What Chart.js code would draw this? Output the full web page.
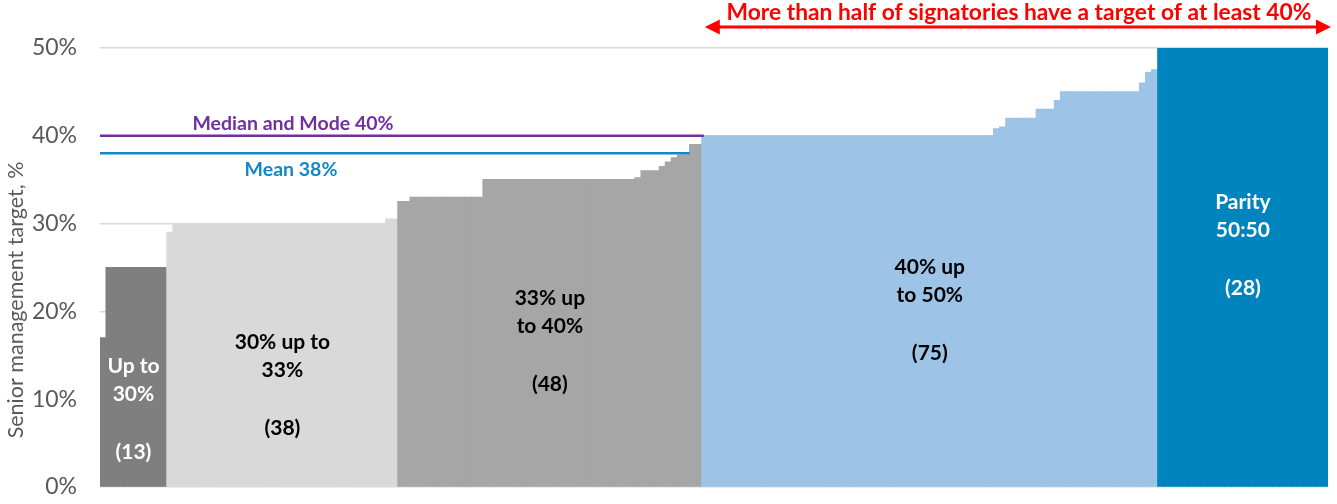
<!DOCTYPE html>
<html>
<head>
<meta charset="utf-8">
<script src="https://cdn.jsdelivr.net/npm/chart.js@4.4.1/dist/chart.umd.min.js"></script>
<style>
  html, body { margin: 0; padding: 0; background: #fff; }
  canvas { display: block; }
</style>
</head>
<body>
<canvas id="targets" width="1337" height="504"></canvas>
<script>
// one bar per signatory, sorted by senior management target (%)
const upTo30 = [17, 25, 25, 25, 25, 25, 25, 25, 25, 25, 25];
const from30to33 = [
  29, 30, 30, 30, 30, 30, 30, 30, 30, 30, 30, 30, 30, 30, 30, 30, 30, 30, 30,
  30, 30, 30, 30, 30, 30, 30, 30, 30, 30, 30, 30, 30, 30, 30, 30, 30, 30.5, 30.5
];
const from33to40 = [
  32.5, 32.5, 33, 33, 33, 33, 33, 33, 33, 33, 33, 33, 33, 33,
  35, 35, 35, 35, 35, 35, 35, 35, 35, 35, 35, 35, 35, 35, 35, 35, 35, 35, 35,
  35, 35, 35, 35, 35, 35, 35.2, 36, 36, 36, 36.5, 37, 37.5, 37.8, 37.8, 39, 39
];
const from40to50 = [
  40, 40, 40, 40, 40, 40, 40, 40, 40, 40, 40, 40, 40, 40, 40, 40, 40, 40, 40, 40,
  40, 40, 40, 40, 40, 40, 40, 40, 40, 40, 40, 40, 40, 40, 40, 40, 40, 40, 40, 40,
  40, 40, 40, 40, 40, 40, 40, 40, 40.8, 41, 42, 42, 42, 42, 42, 43, 43, 43, 44,
  45, 45, 45, 45, 45, 45, 45, 45, 45, 45, 45, 45, 45, 46, 47.2, 47.5
];
const parity = [
  50, 50, 50, 50, 50, 50, 50, 50, 50, 50, 50, 50, 50, 50,
  50, 50, 50, 50, 50, 50, 50, 50, 50, 50, 50, 50, 50, 50
];

const groupValues = [upTo30, from30to33, from33to40, from40to50, parity];
const groupColors = ['#7F7F7F', '#D9D9D9', '#A6A6A6', '#9DC3E6', '#0084BD'];
const groupText = [
  ['Up to', '30%', '', '(13)'],
  ['30% up to', '33%', '', '(38)'],
  ['33% up', 'to 40%', '', '(48)'],
  ['40% up', 'to 50%', '', '(75)'],
  ['Parity', '50:50', '', '(28)']
];
const groupTextColor = ['#FFFFFF', '#000000', '#000000', '#000000', '#FFFFFF'];
const groupTextTop = [366, 342, 298, 267, 202];

const yTicks = [0, 10, 20, 30, 40, 50];
const medianMode = 40;
const mean = 38;

const values = [].concat(...groupValues);
const colors = [];
groupValues.forEach((g, i) => g.forEach(() => colors.push(groupColors[i])));
const labels = values.map((_, i) => String(i + 1));

const FONT = 'Lato, "Open Sans", sans-serif';

const overlay = {
  id: 'overlay',
  afterDatasetsDraw(chart) {
    const { ctx, chartArea } = chart;
    const x = chart.scales.x;
    const y = chart.scales.y;
    const step = x.getPixelForValue(1) - x.getPixelForValue(0);
    const leftEdge = (i) => x.getPixelForValue(i) - step / 2;

    // where each group starts / ends on the category axis
    const bounds = [];
    let start = 0;
    groupValues.forEach((g) => {
      bounds.push([start, start + g.length]);
      start += g.length;
    });

    ctx.save();

    // group captions
    ctx.textAlign = 'center';
    ctx.textBaseline = 'middle';
    ctx.font = 'bold 21px ' + FONT;
    bounds.forEach(([a, b], i) => {
      const cx = (leftEdge(a) + leftEdge(b)) / 2;
      ctx.fillStyle = groupTextColor[i];
      groupText[i].forEach((line, k) => {
        if (!line) return;
        ctx.fillText(line, cx, groupTextTop[i] + k * 28.7);
      });
    });

    // median / mode and mean reference lines
    const yMed = y.getPixelForValue(medianMode);
    const yMean = y.getPixelForValue(mean);
    ctx.lineWidth = 2.5;
    ctx.strokeStyle = '#7030A0';
    ctx.beginPath();
    ctx.moveTo(chartArea.left, yMed);
    ctx.lineTo(leftEdge(bounds[2][1]) + 2, yMed);
    ctx.stroke();
    ctx.strokeStyle = '#1287C8';
    ctx.beginPath();
    ctx.moveTo(chartArea.left, yMean);
    ctx.lineTo(leftEdge(97), yMean);
    ctx.stroke();

    ctx.font = 'bold 19.5px ' + FONT;
    ctx.fillStyle = '#7030A0';
    ctx.fillText('Median and Mode ' + medianMode + '%', 293, yMed - 12);
    ctx.fillStyle = '#1287C8';
    ctx.fillText('Mean ' + mean + '%', 291, yMean + 16);

    // double-headed arrow over the 40%+ signatories
    const ax0 = leftEdge(bounds[3][0]) + 3;
    const ax1 = 1331;
    const ay = 27;
    ctx.strokeStyle = '#FF0000';
    ctx.fillStyle = '#FF0000';
    ctx.lineWidth = 3;
    ctx.beginPath();
    ctx.moveTo(ax0 + 10, ay);
    ctx.lineTo(ax1 - 10, ay);
    ctx.stroke();
    ctx.beginPath();
    ctx.moveTo(ax0, ay);
    ctx.lineTo(ax0 + 15, ay - 7.5);
    ctx.lineTo(ax0 + 15, ay + 7.5);
    ctx.closePath();
    ctx.fill();
    ctx.beginPath();
    ctx.moveTo(ax1, ay);
    ctx.lineTo(ax1 - 15, ay - 7.5);
    ctx.lineTo(ax1 - 15, ay + 7.5);
    ctx.closePath();
    ctx.fill();
    ctx.font = 'bold 22.8px ' + FONT;
    ctx.fillText('More than half of signatories have a target of at least 40%', 1019, 13);

    // axis title
    ctx.translate(16, 300);
    ctx.rotate(-Math.PI / 2);
    ctx.fillStyle = '#595959';
    ctx.font = '21.5px ' + FONT;
    ctx.fillText('Senior management target, %', 0, 0);

    ctx.restore();
  }
};

new Chart(document.getElementById('targets'), {
  type: 'bar',
  data: {
    labels: labels,
    datasets: [{
      data: values,
      backgroundColor: colors,
      borderWidth: 0,
      inflateAmount: 0.6,
      barPercentage: 1,
      categoryPercentage: 1
    }]
  },
  options: {
    responsive: false,
    animation: false,
    layout: { padding: { top: 48, bottom: 17, left: 0, right: 9 } },
    plugins: {
      legend: { display: false },
      tooltip: { enabled: false }
    },
    scales: {
      x: {
        display: false
      },
      y: {
        min: 0,
        max: 50,
        afterFit(scale) {
          scale.width = 100;
          scale.paddingTop = 0;
          scale.paddingBottom = 0;
        },
        afterBuildTicks(scale) { scale.ticks = yTicks.map((v) => ({ value: v })); },
        border: { display: false },
        grid: { color: '#D9D9D9', lineWidth: 1.5, drawTicks: false },
        ticks: {
          padding: 23,
          color: '#595959',
          font: { family: FONT, size: 23 },
          callback: (v) => v + '%'
        }
      }
    }
  },
  plugins: [overlay]
});
</script>
</body>
</html>
